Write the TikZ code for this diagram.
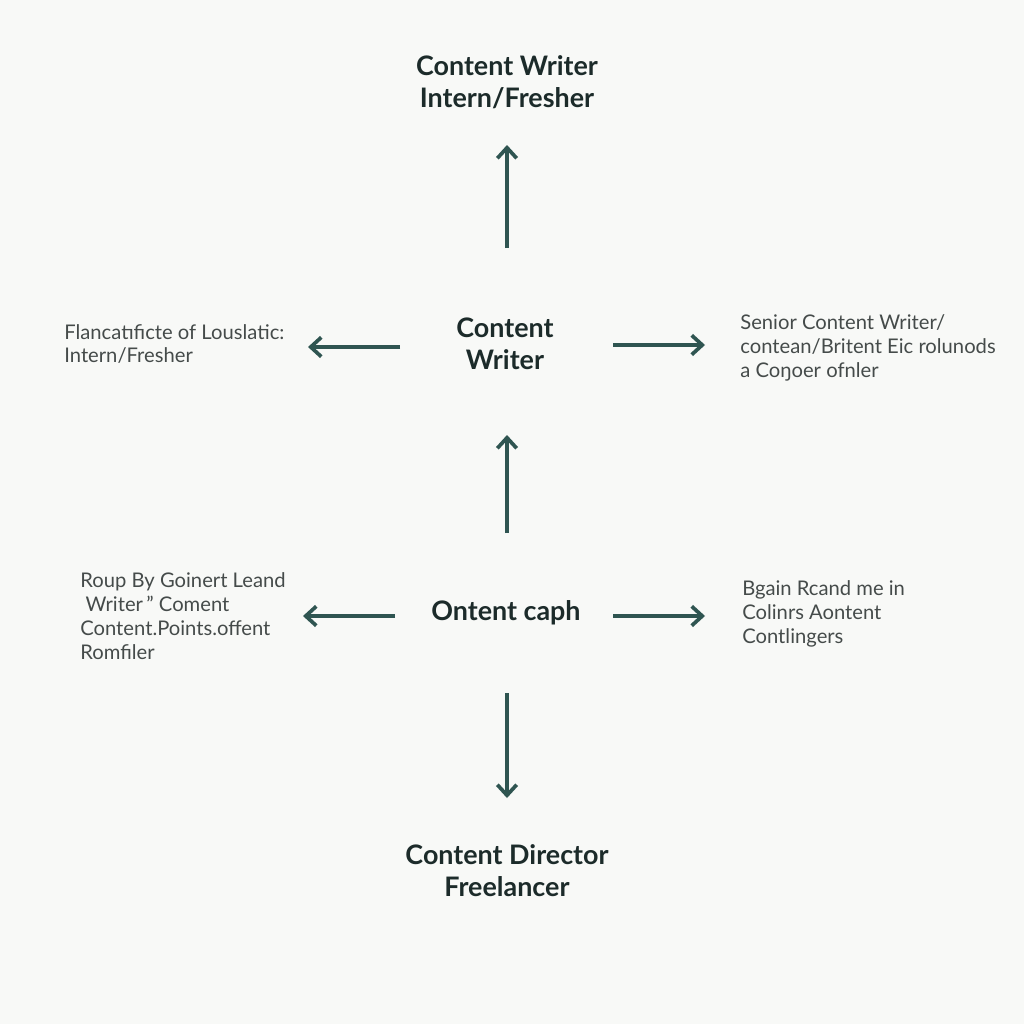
\documentclass[tikz,border=0pt]{standalone}
\usepackage{fontspec}
\setmainfont{Lato}
\usetikzlibrary{arrows.meta}
\definecolor{bg}{HTML}{F8F9F7}
\definecolor{arr}{HTML}{2F5551}
\definecolor{dark}{HTML}{1C2B2A}
\definecolor{side}{HTML}{454B4A}
\tikzset{
  title/.style={font=\fontsize{15.3}{18.2}\selectfont\bfseries, text=dark, align=center, inner sep=0pt},
  sidetext/.style={font=\fontsize{11.5}{13.6}\selectfont, text=side, align=left, inner sep=0pt},
  conn/.style={draw=arr, line width=2.1pt, -{Straight Barb[length=6pt,width=11pt,line width=2.1pt]}}
}
\begin{document}
\begin{tikzpicture}[x=0.02cm,y=-0.02cm]
\fill[bg] (0,0) rectangle (1024,1024);
\useasboundingbox (0,0) rectangle (1024,1024);
% nodes
\node[title] (top) at (507,82) {Content Writer\\Intern/Fresher};
\node[title] (mid) at (505,344) {Content\\Writer};
\node[title] (low) at (506,613) {Ontent caph};
\node[title] (bot) at (507,871) {Content Director\\Freelancer};
\node[sidetext, anchor=west] (ml) at (64,344) {Flancatıficte of Louslatic:\\Intern/Fresher};
\node[sidetext, anchor=west] (mr) at (740,348) {Senior Content Writer/\\contean/Britent Eic rolunods\\a Coŋoer ofnler};
\node[sidetext, anchor=west] (ll) at (80,616) {Roup By Goinert Leand\\\ Writer\,'' Coment\\Content.Points.offent\\Romfiler};
\node[sidetext, anchor=west] (lr) at (742,614) {Bgain Rcand me in\\Colinrs Aontent\\Contlingers};
% connector endpoints
\coordinate (a1s) at (507,248); \coordinate (a1e) at (507,145);
\coordinate (a2s) at (400,347); \coordinate (a2e) at (308,347);
\coordinate (a3s) at (613,345); \coordinate (a3e) at (705,345);
\coordinate (a4s) at (507,533); \coordinate (a4e) at (507,435);
\coordinate (a5s) at (395,616); \coordinate (a5e) at (303,616);
\coordinate (a6s) at (613,616); \coordinate (a6e) at (705,616);
\coordinate (a7s) at (507,693); \coordinate (a7e) at (507,798);
\foreach \i in {1,...,7} {\draw[conn] (a\i s) -- (a\i e);}
\end{tikzpicture}
\end{document}
